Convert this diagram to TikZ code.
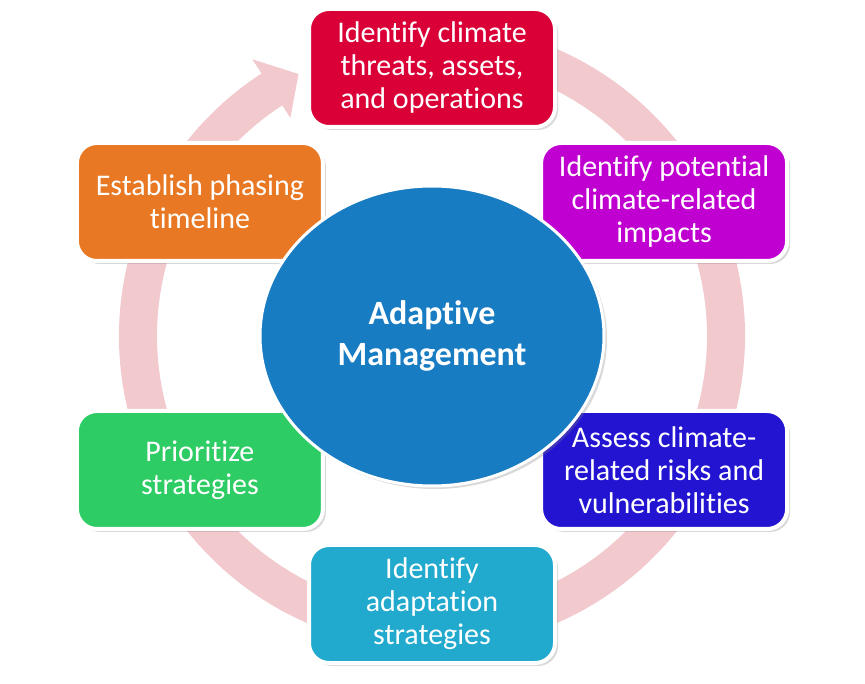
\documentclass[tikz,border=0pt]{standalone}
\usepackage{fontspec}
\setmainfont{Carlito}[Ligatures=NoCommon]
\usetikzlibrary{shapes.geometric,shadows,calc}
\definecolor{ringpink}{RGB}{242,202,206}
\definecolor{threatred}{RGB}{218,0,55}
\definecolor{impactmagenta}{RGB}{192,0,208}
\definecolor{riskblue}{RGB}{34,20,208}
\definecolor{adaptcyan}{RGB}{34,170,206}
\definecolor{prioritygreen}{RGB}{46,204,100}
\definecolor{phaseorange}{RGB}{232,120,36}
\definecolor{coreblue}{RGB}{24,124,194}

\begin{document}
\begin{tikzpicture}[x=1pt, y=1pt,
    stagebox/.style={rectangle, rounded corners=20pt, draw=white, line width=4pt,
        minimum width=246pt, minimum height=118pt, align=center, text=white,
        font=\fontsize{30}{33}\selectfont,
        drop shadow={shadow xshift=3pt, shadow yshift=-3pt, opacity=0.3}}]
    \useasboundingbox (0,0) rectangle (865,683);
    \coordinate (c) at (432,347);

    % Ring
    \fill[ringpink, shift={(c)}] (100:275) arc[start angle=100, end angle=-237, radius=275]
        -- (-237:260) -- (-243:294) -- (-237:330) -- (-237:313)
        arc[start angle=-237, end angle=100, radius=313] -- cycle;

    % Stages
    \node[stagebox, fill=threatred] (threats) at ($(c)+(90:268)$)
        {Identify climate\\threats, assets,\\and operations};
    \node[stagebox, fill=impactmagenta] (impacts) at ($(c)+(30:268)$)
        {Identify potential\\climate-related\\impacts};
    \node[stagebox, fill=riskblue] (risks) at ($(c)+(-30:268)$)
        {Assess climate-\\related risks and\\vulnerabilities};
    \node[stagebox, fill=adaptcyan] (strategies) at ($(c)+(-90:268)$)
        {Identify\\adaptation\\strategies};
    \node[stagebox, fill=prioritygreen] (prioritize) at ($(c)+(-150:268)$)
        {Prioritize\\strategies};
    \node[stagebox, fill=phaseorange] (timeline) at ($(c)+(150:268)$)
        {Establish phasing\\timeline};

    % Centre
    \node[ellipse, fill=coreblue, draw=white, line width=3pt,
        minimum width=344pt, minimum height=300pt, align=center, text=white,
        font=\bfseries\fontsize{34}{41}\selectfont,
        drop shadow={shadow xshift=3pt, shadow yshift=-3pt, opacity=0.3}]
        (core) at (c) {Adaptive\\Management};
\end{tikzpicture}
\end{document}
